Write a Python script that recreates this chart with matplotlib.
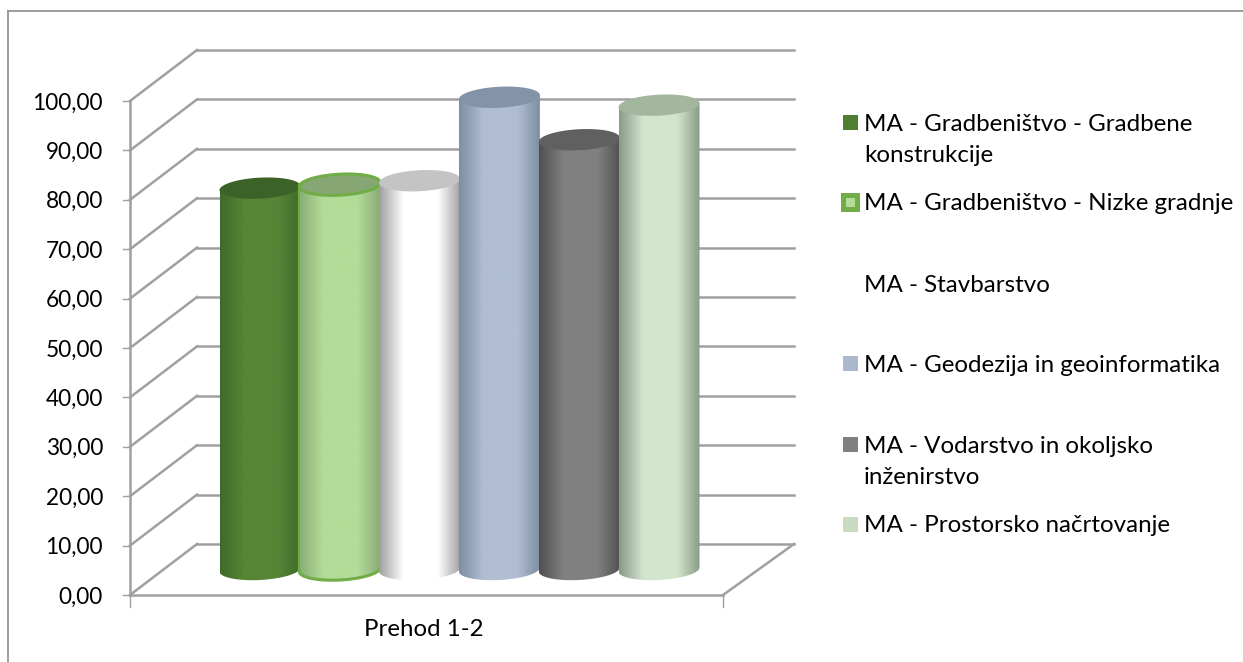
import numpy as np
import matplotlib
matplotlib.use('Agg')
import matplotlib.pyplot as plt
from matplotlib.colors import LinearSegmentedColormap
from matplotlib.lines import Line2D
from matplotlib.patches import Polygon, Rectangle

categories = ['Prehod 1-2']
series = ['MA - Gradbeništvo - Gradbene\nkonstrukcije',
          'MA - Gradbeništvo - Nizke gradnje',
          'MA - Stavbarstvo',
          'MA - Geodezija in geoinformatika',
          'MA - Vodarstvo in okoljsko\ninženirstvo',
          'MA - Prostorsko načrtovanje']
values = [77.2, 77.9, 78.7, 95.6, 87.0, 94.0]
y_ticks = [0, 10, 20, 30, 40, 50, 60, 70, 80, 90, 100]

# side, middle, top-cap colours of each cylinder
sides = ['#3f6a29', '#8aad76', '#a0a0a0', '#7f8ea4', '#505050', '#8a9c85']
mids = ['#568536', '#b3dc98', '#ffffff', '#b0bdd2', '#808080', '#d3e5cd']
caps = ['#3c6327', '#86a673', '#c4c4c4', '#8494a8', '#606060', '#a3b69e']
legend_colors = ['#4f7d32', '#b3dc98', 'none', '#abb8cd', '#808080', '#c8dbc0']

W, H = 1243, 662
plt.rcParams['font.family'] = ['Lato', 'DejaVu Sans']
fig = plt.figure(figsize=(W / 100, H / 100), dpi=100)

# only the top and left edge of the chart frame are in the picture
border = '#8c8c8c'
fig.add_artist(Line2D([8 / W, 8 / W], [0, 1 - 11 / H], color=border, lw=1.2))
fig.add_artist(Line2D([8 / W, 1], [1 - 11 / H, 1 - 11 / H], color=border, lw=1.2))

# axes box runs from the front floor corner to the top of the back wall
px_y = 4.94      # pixels per 1 value unit
px_x = 593.0     # pixels per 1 category
ax = fig.add_axes([130 / W, 1 - 595 / H, 664 / W, 545 / H])
ax.axis('off')

dx = 67 / px_x
dx_right = 71 / px_x
dy = 51 / px_y
wall = '#a0a0a0'
lw = 1.8
for t in y_ticks:
    ax.plot([dx, 1 + dx_right], [t + dy, t + dy], color=wall, lw=lw, clip_on=False, zorder=1)
    ax.plot([0, dx], [t, t + dy], color=wall, lw=lw, clip_on=False, zorder=1)
    ax.plot([-7 / px_x, 0], [t, t], color=wall, lw=1, clip_on=False, zorder=1)
    ax.text(-27 / px_x, t - 2 / px_y, f'{t:.2f}'.replace('.', ','), ha='right', va='center',
            fontsize=16.3, color='black')
ax.plot([0, 0], [0, 100], color=wall, lw=lw, clip_on=False, zorder=1)
ax.plot([0, 1], [0, 0], color=wall, lw=lw, clip_on=False, zorder=1)
ax.plot([1, 1 + dx_right], [0, dy], color=wall, lw=lw, clip_on=False, zorder=1)
ax.plot([0, 0], [-2.5, 0], color=wall, lw=1, clip_on=False, zorder=1)
ax.plot([1, 1], [-2.5, 0], color=wall, lw=1, clip_on=False, zorder=1)
ax.text(0.5 - 3 / px_x, -34 / px_y, categories[0], ha='center', va='center', fontsize=17.3)

# cylinders, later ones overlap the earlier ones
n = len(values)
a = 40.5 / px_x
b = 10.5 / px_y
tilt = 0.05
step = 79.8 / px_x
x0 = 130 / px_x
base = dy / 2
t = np.linspace(0, 2 * np.pi, 121)
for i in range(n):
    cx = x0 + i * step
    v = values[i]
    ex = a * np.cos(t)
    ey = b * np.sin(t) + tilt * (ex * px_x) / px_y
    front = t >= np.pi
    order = np.argsort(ex[front])
    outline = np.column_stack([
        np.r_[cx + ex[front][order], cx + a, cx - a],
        np.r_[base + ey[front][order], v + base + tilt * a * px_x / px_y,
              v + base - tilt * a * px_x / px_y]])
    body = Polygon(outline, closed=True, fc='none', ec='none', zorder=3 + i)
    ax.add_patch(body)
    cmap = LinearSegmentedColormap.from_list(
        f'c{i}', [(0, sides[i]), (0.3, mids[i]), (0.72, mids[i]), (1, sides[i])], N=128)
    grad = np.linspace(0, 1, 128).reshape(1, -1)
    img = ax.imshow(grad, cmap=cmap, extent=[cx - a, cx + a, 0, v + base + 4],
                    aspect='auto', zorder=3 + i, interpolation='bilinear')
    img.set_clip_path(body)
    cap_ec = '#70ad47' if i == 1 else 'none'
    ax.add_patch(Polygon(np.column_stack([cx + ex, v + base + ey]), closed=True,
                         fc=caps[i], ec=cap_ec, lw=2.2 if i == 1 else 0, zorder=3 + i + 0.5))
    if i == 1:
        m = int(front.sum())
        ax.plot(outline[:m, 0], outline[:m, 1], color='#70ad47', lw=2.2, zorder=3 + i + 0.5)
        ax.plot([cx - a, cx - a], [base, v + base], color='#70ad47', lw=1.6, zorder=3 + i + 0.5)
ax.set_xlim(0, 664 / px_x)
ax.set_ylim(0, 545 / px_y)

# legend, y is the middle of each entry in pixels from the top
legend_y = [140, 204, 285, 365, 462, 526]
swatch_y = [122, 202, 283, 363, 444, 524]
for i, name in enumerate(series):
    fig.text(864 / W, 1 - legend_y[i] / H, name, ha='left', va='center', fontsize=17.4,
             linespacing=1.6, color='black')
    if legend_colors[i] == 'none':
        continue
    s = 14 if i == 1 else 15
    fig.add_artist(Rectangle((843 / W, 1 - (swatch_y[i] + s / 2) / H), s / W, s / H,
                             transform=fig.transFigure, fc=legend_colors[i],
                             ec='#70ad47' if i == 1 else 'none',
                             lw=3.6 if i == 1 else 0))

fig.savefig('out.png', dpi=100)
